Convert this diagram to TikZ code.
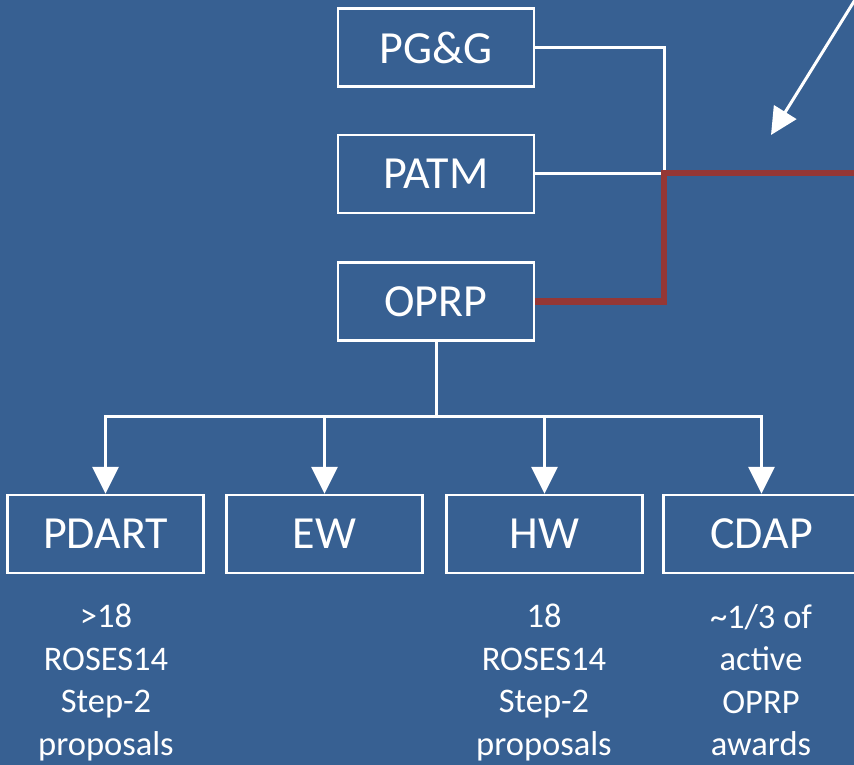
\documentclass[tikz,border=0pt]{standalone}
\usepackage{fontspec}
\setmainfont{Carlito}
\usetikzlibrary{arrows.meta}
\definecolor{bg}{HTML}{376092}
\definecolor{darkred}{HTML}{953735}
\tikzset{
  box/.style={draw=white, line width=2.5pt, minimum width=196pt, minimum height=78pt, inner sep=0pt, text=white, font=\fontsize{46}{50}\selectfont},
  wire/.style={draw=white, line width=3pt},
  redwire/.style={draw=darkred, line width=6.5pt},
  arr/.style={wire, -{Triangle[width=26pt,length=27pt]}},
  note/.style={text=white, align=center, inner sep=0pt, anchor=north, font=\fontsize{34.5}{42.5}\selectfont}
}
\begin{document}
\begin{tikzpicture}[x=1pt,y=-1pt]
\useasboundingbox (0,0) rectangle (854,765);
\fill[bg] (0,0) rectangle (854,765);
% top boxes
\node[box] (pgg) at (436,47.5) {PG\&G};
\node[box] (patm) at (436,174) {PATM};
\node[box] (oprp) at (436,301.5) {OPRP};
% bottom boxes
\node[box] (pdart) at (105.5,534) {PDART};
\node[box] (ew) at (324.5,534) {EW};
\node[box] (hw) at (544.5,534) {HW};
\node[box] (cdap) at (761.5,534) {CDAP};
% coordinates
\coordinate (j) at (664,173);
\coordinate (redend) at (870,173);
\coordinate (bus) at (436,416);
\coordinate (diagstart) at (858,-5);
\coordinate (diagtip) at (771,135);
% top connectors
\draw[wire] (pgg.east) -| (j);
\draw[wire] (patm.east |- j) -- (j);
\draw[redwire] (oprp.east) -| (j) -- (redend);
\draw[arr] (diagstart) -- (diagtip);
% bottom tree
\draw[wire] (oprp.south) -- (bus);
\draw[wire, line cap=rect] (pdart.north |- bus) -- (cdap.north |- bus);
\draw[arr] (pdart.north |- bus) -- (pdart.north);
\draw[arr] (ew.north |- bus) -- (ew.north);
\draw[arr] (hw.north |- bus) -- (hw.north);
\draw[arr] (cdap.north |- bus) -- (cdap.north);
% notes
\node[note] (n1) at (106,604) {>18\\ROSES14\\Step-2\\proposals};
\node[note] (n2) at (544,604) {18\\ROSES14\\Step-2\\proposals};
\node[note] (n3) at (761,604) {\~{}1/3 of\\active\\OPRP\\awards};
\end{tikzpicture}
\end{document}
